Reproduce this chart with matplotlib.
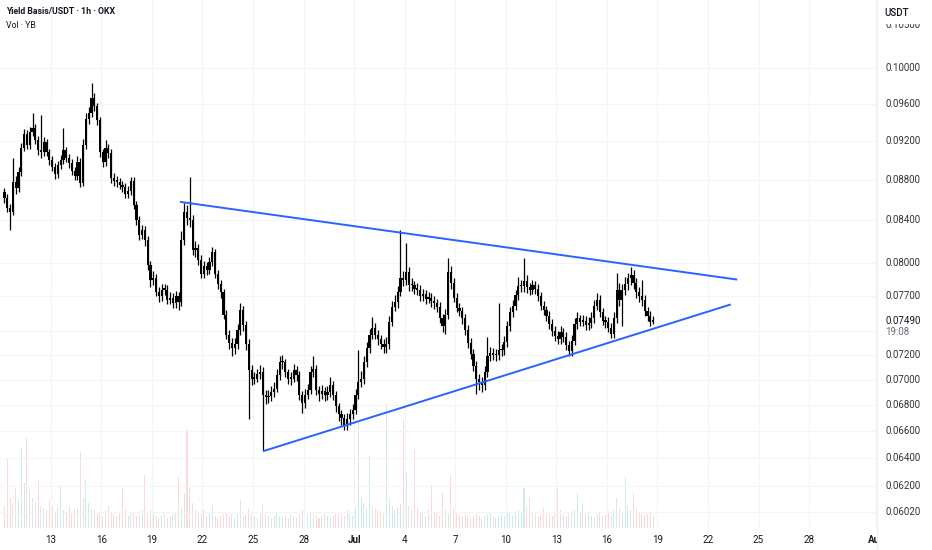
import numpy as np
import pandas as pd
import matplotlib
matplotlib.use("Agg")
import matplotlib.pyplot as plt
import matplotlib.dates as mdates
import matplotlib.transforms as mtransforms

plt.rcParams['font.family'] = ['Roboto', 'DejaVu Sans']

# 4h candles, first candle centred at 2025-06-10 06:00
first_open = 0.0868
closes = [
    0.0862, 0.0852, 0.0848, 0.0878, 0.0872, 0.0888, 0.0913, 0.0927, 0.0916, 0.0929,
    0.0934, 0.0921, 0.0910, 0.0908, 0.0919, 0.0908, 0.0900, 0.0893, 0.0886, 0.0895,
    0.0900, 0.0910, 0.0902, 0.0897, 0.0889, 0.0884, 0.0898, 0.0877, 0.0916, 0.0943,
    0.0950, 0.0966, 0.0957, 0.0942, 0.0908, 0.0898, 0.0913, 0.0907, 0.0882, 0.0879,
    0.0878, 0.0875, 0.0873, 0.0866, 0.0869, 0.0879, 0.0855, 0.0840, 0.0826, 0.0831,
    0.0821, 0.0798, 0.0785, 0.0786, 0.0774, 0.0770, 0.0776, 0.0776, 0.0767, 0.0769,
    0.0764, 0.0770, 0.0765, 0.0821, 0.0848, 0.0842, 0.0840, 0.0812, 0.0814, 0.0803,
    0.0790, 0.0797, 0.0794, 0.0801, 0.0810, 0.0790, 0.0781, 0.0774, 0.0754, 0.0737,
    0.0730, 0.0726, 0.0729, 0.0741, 0.0758, 0.0745, 0.0729, 0.0708, 0.0701, 0.0701,
    0.0705, 0.0706, 0.0688, 0.0686, 0.0687, 0.0690, 0.0693, 0.0704, 0.0714, 0.0714,
    0.0706, 0.0701, 0.0701, 0.0708, 0.0704, 0.0688, 0.0682, 0.0688, 0.0692, 0.0706,
    0.0709, 0.0692, 0.0689, 0.0691, 0.0688, 0.0690, 0.0696, 0.0688, 0.0679, 0.0673,
    0.0670, 0.0665, 0.0669, 0.0673, 0.0676, 0.0688, 0.0698, 0.0701, 0.0714, 0.0726,
    0.0737, 0.0743, 0.0737, 0.0733, 0.0729, 0.0727, 0.0729, 0.0748, 0.0761, 0.0765,
    0.0774, 0.0786, 0.0785, 0.0792, 0.0780, 0.0780, 0.0777, 0.0776, 0.0770, 0.0772,
    0.0768, 0.0769, 0.0766, 0.0764, 0.0761, 0.0751, 0.0744, 0.0754, 0.0792, 0.0782,
    0.0769, 0.0760, 0.0757, 0.0751, 0.0741, 0.0730, 0.0721, 0.0711, 0.0701, 0.0698,
    0.0696, 0.0706, 0.0719, 0.0722, 0.0720, 0.0720, 0.0724, 0.0724, 0.0731, 0.0744,
    0.0756, 0.0762, 0.0771, 0.0779, 0.0779, 0.0784, 0.0778, 0.0776, 0.0780, 0.0777,
    0.0770, 0.0762, 0.0758, 0.0753, 0.0746, 0.0740, 0.0736, 0.0733, 0.0739, 0.0735,
    0.0728, 0.0723, 0.0732, 0.0746, 0.0751, 0.0748, 0.0749, 0.0745, 0.0747, 0.0751,
    0.0762, 0.0767, 0.0756, 0.0749, 0.0748, 0.0743, 0.0738, 0.0751, 0.0776, 0.0767,
    0.0776, 0.0781, 0.0786, 0.0789, 0.0782, 0.0774, 0.0770, 0.0767, 0.0757, 0.0753,
    0.0748, 0.0749,
]
highs = [
    0.0872, 0.0866, 0.0856, 0.0902, 0.0884, 0.0893, 0.0918, 0.0933, 0.0931, 0.0935,
    0.0950, 0.0938, 0.0925, 0.0948, 0.0924, 0.0922, 0.0912, 0.0904, 0.0897, 0.0899,
    0.0905, 0.0934, 0.0914, 0.0906, 0.0901, 0.0893, 0.0904, 0.0902, 0.0922, 0.0950,
    0.0956, 0.0983, 0.0972, 0.0961, 0.0946, 0.0912, 0.0921, 0.0917, 0.0911, 0.0887,
    0.0884, 0.0882, 0.0879, 0.0877, 0.0874, 0.0883, 0.0883, 0.0859, 0.0844, 0.0836,
    0.0835, 0.0825, 0.0802, 0.0793, 0.0790, 0.0778, 0.0781, 0.0781, 0.0780, 0.0774,
    0.0773, 0.0775, 0.0774, 0.0830, 0.0857, 0.0855, 0.0883, 0.0845, 0.0820, 0.0818,
    0.0807, 0.0802, 0.0801, 0.0806, 0.0815, 0.0813, 0.0794, 0.0785, 0.0777, 0.0758,
    0.0741, 0.0734, 0.0734, 0.0746, 0.0764, 0.0762, 0.0749, 0.0733, 0.0712, 0.0706,
    0.0709, 0.0712, 0.0710, 0.0692, 0.0692, 0.0695, 0.0698, 0.0709, 0.0719, 0.0720,
    0.0717, 0.0709, 0.0706, 0.0713, 0.0711, 0.0707, 0.0691, 0.0693, 0.0697, 0.0711,
    0.0719, 0.0712, 0.0695, 0.0696, 0.0694, 0.0695, 0.0702, 0.0699, 0.0691, 0.0682,
    0.0676, 0.0673, 0.0674, 0.0677, 0.0681, 0.0693, 0.0724, 0.0707, 0.0719, 0.0731,
    0.0742, 0.0752, 0.0747, 0.0741, 0.0737, 0.0733, 0.0735, 0.0753, 0.0766, 0.0771,
    0.0779, 0.0831, 0.0793, 0.0819, 0.0796, 0.0786, 0.0784, 0.0782, 0.0780, 0.0777,
    0.0776, 0.0774, 0.0773, 0.0770, 0.0768, 0.0765, 0.0755, 0.0759, 0.0805, 0.0797,
    0.0786, 0.0773, 0.0764, 0.0761, 0.0755, 0.0745, 0.0734, 0.0725, 0.0715, 0.0705,
    0.0702, 0.0711, 0.0735, 0.0727, 0.0726, 0.0725, 0.0764, 0.0729, 0.0736, 0.0749,
    0.0761, 0.0767, 0.0776, 0.0787, 0.0785, 0.0805, 0.0789, 0.0782, 0.0785, 0.0784,
    0.0781, 0.0774, 0.0766, 0.0762, 0.0757, 0.0750, 0.0744, 0.0740, 0.0744, 0.0743,
    0.0739, 0.0732, 0.0737, 0.0751, 0.0756, 0.0754, 0.0754, 0.0753, 0.0752, 0.0756,
    0.0767, 0.0773, 0.0771, 0.0760, 0.0753, 0.0752, 0.0747, 0.0756, 0.0791, 0.0782,
    0.0781, 0.0787, 0.0791, 0.0796, 0.0794, 0.0786, 0.0778, 0.0785, 0.0771, 0.0761,
    0.0757, 0.0753,
]
lows = [
    0.0857, 0.0848, 0.0831, 0.0845, 0.0866, 0.0868, 0.0884, 0.0909, 0.0912, 0.0912,
    0.0925, 0.0917, 0.0905, 0.0902, 0.0904, 0.0904, 0.0895, 0.0889, 0.0881, 0.0882,
    0.0891, 0.0896, 0.0898, 0.0892, 0.0885, 0.0880, 0.0880, 0.0873, 0.0874, 0.0912,
    0.0938, 0.0946, 0.0952, 0.0937, 0.0903, 0.0893, 0.0894, 0.0902, 0.0877, 0.0874,
    0.0873, 0.0871, 0.0868, 0.0862, 0.0862, 0.0865, 0.0851, 0.0836, 0.0821, 0.0822,
    0.0816, 0.0794, 0.0778, 0.0780, 0.0770, 0.0765, 0.0766, 0.0771, 0.0763, 0.0763,
    0.0760, 0.0760, 0.0758, 0.0762, 0.0817, 0.0836, 0.0834, 0.0807, 0.0806, 0.0798,
    0.0786, 0.0786, 0.0789, 0.0790, 0.0797, 0.0786, 0.0777, 0.0769, 0.0750, 0.0733,
    0.0725, 0.0719, 0.0721, 0.0725, 0.0737, 0.0740, 0.0724, 0.0669, 0.0696, 0.0697,
    0.0698, 0.0701, 0.0646, 0.0681, 0.0682, 0.0683, 0.0686, 0.0690, 0.0700, 0.0709,
    0.0702, 0.0697, 0.0696, 0.0698, 0.0699, 0.0684, 0.0674, 0.0678, 0.0685, 0.0689,
    0.0702, 0.0688, 0.0683, 0.0685, 0.0683, 0.0684, 0.0686, 0.0684, 0.0675, 0.0668,
    0.0665, 0.0661, 0.0661, 0.0665, 0.0669, 0.0673, 0.0685, 0.0694, 0.0697, 0.0710,
    0.0722, 0.0733, 0.0733, 0.0728, 0.0725, 0.0722, 0.0722, 0.0725, 0.0744, 0.0757,
    0.0760, 0.0770, 0.0779, 0.0780, 0.0775, 0.0775, 0.0772, 0.0771, 0.0766, 0.0766,
    0.0763, 0.0764, 0.0761, 0.0759, 0.0756, 0.0747, 0.0739, 0.0738, 0.0750, 0.0777,
    0.0765, 0.0756, 0.0753, 0.0746, 0.0737, 0.0726, 0.0717, 0.0707, 0.0689, 0.0692,
    0.0690, 0.0692, 0.0702, 0.0715, 0.0716, 0.0715, 0.0716, 0.0719, 0.0720, 0.0727,
    0.0740, 0.0752, 0.0758, 0.0767, 0.0774, 0.0774, 0.0773, 0.0771, 0.0772, 0.0772,
    0.0766, 0.0758, 0.0754, 0.0749, 0.0742, 0.0736, 0.0732, 0.0729, 0.0729, 0.0731,
    0.0724, 0.0719, 0.0719, 0.0728, 0.0742, 0.0744, 0.0744, 0.0741, 0.0741, 0.0743,
    0.0747, 0.0758, 0.0752, 0.0745, 0.0743, 0.0739, 0.0734, 0.0734, 0.0747, 0.0762,
    0.0744, 0.0771, 0.0776, 0.0780, 0.0777, 0.0769, 0.0765, 0.0762, 0.0753, 0.0749,
    0.0744, 0.0746,
]
volumes = [
    22, 70, 30, 25, 40, 28, 80, 45, 90, 38,
    30, 25, 48, 22, 20, 18, 28, 22, 15, 20,
    43, 18, 16, 22, 14, 18, 20, 76, 30, 48,
    25, 20, 18, 14, 16, 12, 18, 22, 15, 14,
    12, 16, 40, 18, 12, 14, 15, 12, 14, 18,
    53, 16, 18, 14, 12, 10, 12, 14, 10, 12,
    14, 16, 51, 20, 35, 98, 40, 25, 18, 16,
    14, 18, 12, 14, 22, 12, 10, 12, 14, 16,
    12, 14, 10, 16, 28, 12, 14, 20, 16, 12,
    10, 14, 24, 14, 12, 10, 12, 14, 12, 10,
    12, 10, 14, 12, 10, 14, 18, 12, 14, 16,
    14, 12, 10, 12, 14, 12, 10, 12, 14, 16,
    14, 12, 18, 14, 12, 20, 105, 30, 25, 20,
    72, 22, 20, 18, 16, 14, 125, 30, 22, 18,
    20, 24, 108, 56, 22, 18, 78, 20, 16, 14,
    12, 18, 43, 16, 14, 12, 36, 18, 14, 53,
    20, 16, 14, 12, 14, 12, 10, 12, 14, 12,
    10, 12, 14, 16, 12, 10, 12, 14, 12, 16,
    14, 12, 16, 18, 14, 40, 22, 30, 16, 14,
    12, 14, 20, 16, 14, 12, 16, 40, 18, 14,
    12, 14, 16, 18, 35, 14, 25, 16, 14, 12,
    10, 14, 16, 12, 14, 16, 12, 18, 30, 20,
    16, 51, 22, 18, 35, 20, 16, 14, 12, 14,
    15, 12,
]

# triangle trend lines
upper_dates = ["2025-06-20 16:00", "2025-07-23 17:45"]
upper_prices = [0.0858, 0.0785]
lower_dates = ["2025-06-25 14:00", "2025-07-23 08:30"]
lower_prices = [0.0645, 0.0763]

grid_prices = [0.0602, 0.062, 0.064, 0.066, 0.068, 0.070, 0.072, 0.074,
               0.077, 0.080, 0.084, 0.088, 0.092, 0.096, 0.100]
label_prices = [0.0602, 0.062, 0.064, 0.066, 0.068, 0.070, 0.072,
                0.077, 0.080, 0.084, 0.088, 0.092, 0.096, 0.100, 0.105]
last_price = 0.0749
countdown = "19:08"

tick_dates = ["2025-06-13", "2025-06-16", "2025-06-19", "2025-06-22", "2025-06-25",
              "2025-06-28", "2025-07-01", "2025-07-04", "2025-07-07", "2025-07-10",
              "2025-07-13", "2025-07-16", "2025-07-19", "2025-07-22", "2025-07-25",
              "2025-07-28", "2025-08-01"]
tick_labels = ["13", "16", "19", "22", "25", "28", "Jul", "4", "7", "10",
               "13", "16", "19", "22", "25", "28", "Aug"]

times = pd.date_range("2025-06-10 06:00", periods=len(closes), freq="4h")
t = mdates.date2num(times.to_pydatetime())
c = np.array(closes)
o = np.array([first_open] + closes[:-1])
h = np.array(highs)
l = np.array(lows)

W, H = 932, 550
fig = plt.figure(figsize=(W / 100, H / 100), dpi=100)
ax = fig.add_axes([0, 1 - 528 / H, 877 / W, 528 / H])
ax.set_zorder(1)
ax.patch.set_visible(False)
axv = ax.twinx()
axv.set_zorder(0.5)

ax.set_yscale("log")
ax.set_ylim(0.05908, 0.10809)
x0 = mdates.date2num(pd.Timestamp("2025-06-13").to_pydatetime()) - 50.8 / 16.85
ax.set_xlim(x0, x0 + 877 / 16.85)

# grid
ax.yaxis.set_minor_locator(matplotlib.ticker.NullLocator())
ax.set_yticks(grid_prices)
ax.tick_params(axis="y", left=False, labelleft=False, right=False, labelright=False)
tick_x = mdates.date2num(pd.to_datetime(tick_dates).to_pydatetime())
ax.set_xticks(tick_x)
ax.set_xticklabels(tick_labels)
ax.tick_params(axis="x", length=0, pad=5, labelsize=7, labelcolor="#131722")
for lab in ax.get_xticklabels():
    if lab.get_text() in ("Jul", "Aug"):
        lab.set_fontweight("bold")
ax.grid(True, color="#f3f4f7", linewidth=0.8)
ax.set_axisbelow(True)
for s in ax.spines.values():
    s.set_visible(False)

# volume
vol_colors = np.where(c >= o, "#26a69a", "#ef5350")
axv.bar(t, volumes, width=0.06, color=vol_colors, alpha=0.22, linewidth=0)
axv.set_ylim(0, 528)
axv.set_yticks([])
for s in axv.spines.values():
    s.set_visible(False)

# candles
ax.vlines(t, l, h, color="black", linewidth=0.9, zorder=3)
body_lo = np.minimum(o, c)
body_h = np.maximum(np.abs(c - o), c * 0.0015)
ax.bar(t, body_h, bottom=body_lo, width=0.13, color="black", linewidth=0, zorder=3)

# trend lines
ax.plot(mdates.date2num(pd.to_datetime(upper_dates).to_pydatetime()), upper_prices,
        color="#2962ff", linewidth=1.4, zorder=4, solid_capstyle="butt")
ax.plot(mdates.date2num(pd.to_datetime(lower_dates).to_pydatetime()), lower_prices,
        color="#2962ff", linewidth=1.4, zorder=4, solid_capstyle="butt")

# price scale panel
cover = fig.add_axes([877 / W, 0, 55 / W, 1])
cover.set_zorder(2)
cover.set_facecolor("white")
cover.set_xticks([])
cover.set_yticks([])
for s in cover.spines.values():
    s.set_visible(False)
cover.axvline(0, color="#eceef2", linewidth=0.8)

trans = mtransforms.blended_transform_factory(fig.transFigure, ax.transData)
for p in label_prices:
    fig.text(885 / W, p, f"{p:.5f}", transform=trans, ha="left", va="center",
             fontsize=7, color="#333333", zorder=3)
fig.text(885 / W, last_price, f"{last_price:.5f}", transform=trans, ha="left",
         va="center", fontsize=7, color="#131722", zorder=3)
trans_cd = mtransforms.offset_copy(trans, fig=fig, x=0, y=-11, units="dots")
fig.text(885 / W, last_price, countdown, transform=trans_cd, ha="left", va="center",
         fontsize=7, color="#6a6d78", zorder=3)
fig.patches.append(matplotlib.patches.Rectangle((878 / W, 1 - 24 / H), 54 / W, 24 / H,
                                                transform=fig.transFigure,
                                                facecolor="white", edgecolor="none",
                                                zorder=3.5))
fig.text(897 / W, 1 - 13 / H, "USDT", ha="center", va="center", fontsize=7,
         color="#131722", fontweight="medium", zorder=4)

# header text
fig.text(6 / W, 1 - 12 / H, "Yield Basis/USDT · 1h · OKX", ha="left", va="center",
         fontsize=6.3, fontweight="bold", color="#131722", zorder=4)
fig.text(6 / W, 1 - 26 / H, "Vol · YB", ha="left", va="center",
         fontsize=6.3, color="#131722", zorder=4)

fig.savefig("out.png", dpi=100, facecolor="white")
